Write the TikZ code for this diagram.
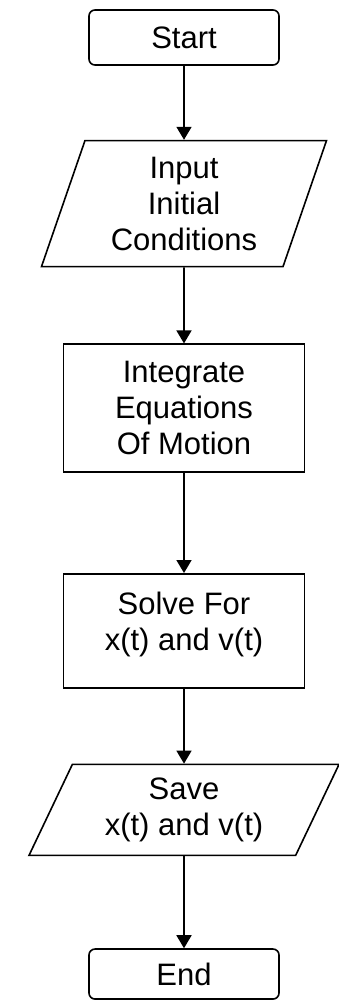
\documentclass[tikz,border=0pt]{standalone}
\usepackage{fontspec}
\setmainfont{Liberation Sans}
\usetikzlibrary{positioning,shapes.geometric,arrows.meta}

\begin{document}
\begin{tikzpicture}[x=1pt,y=1pt,
  every node/.style={font=\fontsize{31}{36}\selectfont,align=center,inner sep=2pt},
  terminal/.style={draw,line width=1.6pt,rounded corners=6pt,minimum width=190pt,minimum height=55pt},
  process/.style={draw,line width=1.6pt,minimum width=241pt},
  io/.style={draw,line width=1.6pt,trapezium,trapezium stretches body},
  flow/.style={line width=1.6pt,-{Triangle[length=13pt,width=15pt]}}]
  \useasboundingbox (0,0) rectangle (339,-1000);
  \node [terminal] (start) at (184,-37.5) {Start};
  \node [io,trapezium left angle=66,trapezium right angle=114,minimum width=285pt,minimum height=126pt,below=74pt of start] (input) {Input\\Initial\\Conditions};
  \node [process,minimum height=128pt,below=76pt of input] (integrate) {Integrate\\Equations\\Of Motion};
  \node [process,minimum height=114pt,below=100pt of integrate] (solve) {Solve For\\x(t) and v(t)\\[-16pt]~};
  \node [io,trapezium left angle=57.5,trapezium right angle=122.5,minimum width=310pt,minimum height=91pt,below=75pt of solve] (save) {Save\\x(t) and v(t)};
  \node [terminal,minimum height=50pt,below=92pt of save] (end) {End};
  \draw [flow] (start) -- (input);
  \draw [flow] (input) -- (integrate);
  \draw [flow] (integrate) -- (solve);
  \draw [flow] (solve) -- (save);
  \draw [flow] (save) -- (end);
\end{tikzpicture}
\end{document}
